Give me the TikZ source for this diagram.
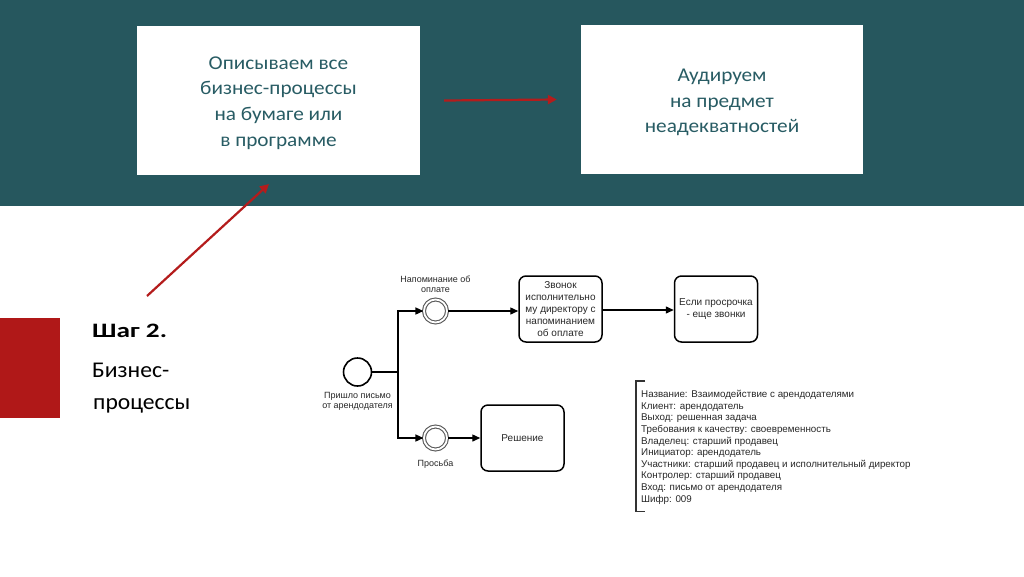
\documentclass[tikz,border=0pt]{standalone}
\usepackage{fontspec}
\setmainfont{Carlito}
\newfontfamily\diafont{Liberation Sans}
\newfontfamily\boxfont[FakeStretch=1.09]{Carlito}
\newfontfamily\stepfont[FakeStretch=1.33]{Carlito}
\newfontfamily\subfont[FakeStretch=1.05]{Carlito}
\usetikzlibrary{arrows.meta,positioning}
\definecolor{bandteal}{RGB}{38,87,94}
\definecolor{txtteal}{RGB}{40,92,100}
\definecolor{slidered}{RGB}{176,24,24}
\definecolor{arrred}{RGB}{180,28,28}
\definecolor{diatext}{RGB}{40,40,40}
\tikzset{
  wbox/.style={fill=white, draw=none, minimum width=283pt, minimum height=149pt},
  wtext/.style={align=center, text=txtteal, inner sep=0pt, font=\boxfont\fontsize{19.5}{25.7}\selectfont},
  redarr/.style={draw=arrred, line width=2.2pt, -{Triangle[length=9pt,width=9pt]}},
  startev/.style={circle, draw=black, line width=1.6pt, minimum size=28pt, inner sep=0pt, fill=white},
  midev/.style={circle, draw=black!65, line width=1.1pt, double=white, double distance=1.8pt, minimum size=23pt, inner sep=0pt, fill=white},
  task/.style={rounded corners=7pt, draw=black, line width=1.5pt, minimum width=83pt, minimum height=66pt, align=center, inner sep=1pt,
    font=\diafont\fontsize{10}{11.8}\selectfont, text=diatext},
  lbl/.style={align=center, inner sep=0pt, font=\diafont\fontsize{9}{10.5}\selectfont, text=diatext},
  flow/.style={draw=black, line width=1.4pt, -{Triangle[length=8pt,width=7pt]}},
  plainflow/.style={draw=black, line width=1.4pt},
}
\begin{document}
\begin{tikzpicture}[x=1pt,y=-1pt]
\useasboundingbox (0,0) rectangle (1024,576);
\fill[white] (0,0) rectangle (1024,576);
% top band
\fill[bandteal] (0,0) rectangle (1024,206);
\node[wbox] (b1) at (278.5,100.5) {};
\node[wtext] (b1t) at ([yshift=-2.5pt]b1.center) {Описываем все\\бизнес-процессы\\на бумаге или\\в программе};
\node[wbox, minimum width=282pt] (b2) at (722,99.5) {};
\node[wtext] (b2t) at ([yshift=-3pt]b2.center) {Аудируем\\на предмет\\неадекватностей};
\draw[redarr] ([xshift=24pt]b1.east) -- ([xshift=-24pt]b2.west);
% left part
\fill[slidered] (0,318) rectangle (60,418);
\node[anchor=base west, inner sep=0pt, font=\stepfont\bfseries\fontsize{20.5}{24}\selectfont] (step2) at (92,337) {Шаг 2.};
\node[anchor=base west, inner sep=0pt, font=\subfont\fontsize{22.5}{27}\selectfont] (bp1) at (92,377) {Бизнес-};
\node[anchor=base west, inner sep=0pt, font=\subfont\fontsize{22.5}{27}\selectfont] (bp2) at (93,409) {процессы};
\coordinate (dtail) at (147,296);
\coordinate (dhead) at (269,184);
\draw[redarr] (dtail) -- (dhead);
% BPMN diagram
\node[startev] (s) at (357.5,372) {};
\node[lbl, below=5pt of s] (sl) {Пришло письмо\\от арендодателя};
\coordinate (j) at (398,372);
\node[midev] (e1) at (435.5,311) {};
\node[lbl, above=6pt of e1] (e1l) {Напоминание об\\оплате};
\node[midev] (e2) at (435.5,438) {};
\node[lbl, below=10pt of e2] (e2l) {Просьба};
\node[task] (t1) at (560.5,309) {Звонок\\исполнительно\\му директору с\\напоминанием\\об оплате};
\node[task] (t2) at (716,309) {Если просрочка\\- еще звонки};
\node[task] (t3) at (522.5,438) {Решение};
\draw[plainflow] (s) -- (j);
\draw[flow] (j) |- (e1);
\draw[flow] (j) |- (e2);
\draw[flow] (e1) -- (e1 -| t1.west);
\draw[flow] (e2) -- (t3);
\draw[flow] (t1.east |- 0,310) -- (t2.west |- 0,310);
% annotation
\node[anchor=north west, align=left, inner sep=0pt, font=\diafont\fontsize{9.8}{11.6}\selectfont, text=diatext,
  minimum height=130pt, text depth=0pt] (ann) at (641,381) {%
Название: Взаимодействие с арендодателями\\
Клиент: арендодатель\\
Выход: решенная задача\\
Требования к качеству: своевременность\\
Владелец: старший продавец\\
Инициатор: арендодатель\\
Участники: старший продавец и исполнительный директор\\
Контролер: старший продавец\\
Вход: письмо от арендодателя\\
Шифр: 009};
\draw[line width=1.3pt, draw=black!80] ([xshift=4pt]ann.north west) -- ([xshift=-5pt]ann.north west) -- ([xshift=-5pt]ann.south west) -- ([xshift=4pt]ann.south west);
\end{tikzpicture}
\end{document}
